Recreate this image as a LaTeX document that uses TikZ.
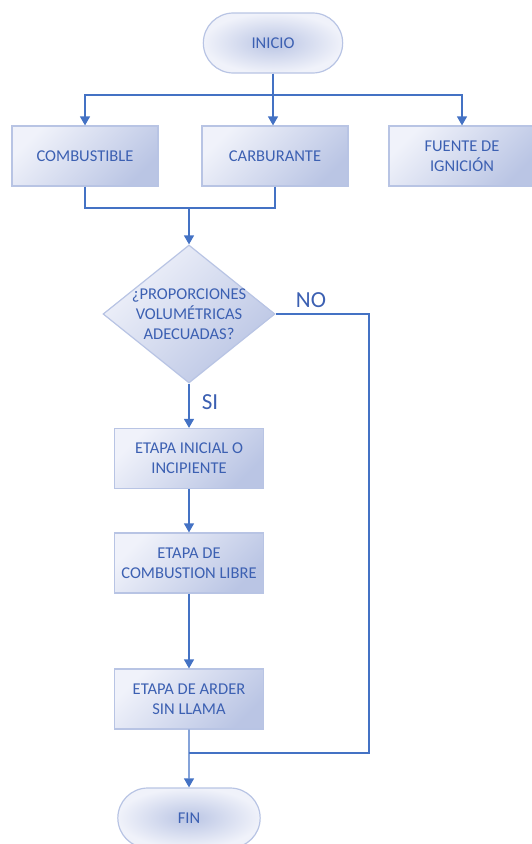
\documentclass[tikz,border=0pt]{standalone}
\usepackage{fontspec}
\setmainfont{Carlito}
\usetikzlibrary{shapes.geometric,shapes.misc,arrows.meta,calc}
\definecolor{lineblue}{RGB}{68,114,196}
\definecolor{txtblue}{RGB}{60,96,178}
\definecolor{bord}{RGB}{184,196,228}
\definecolor{lite}{RGB}{240,242,250}
\definecolor{dark}{RGB}{186,197,228}
\tikzset{
  x=1pt, y=1pt,
  boxtext/.style={text=txtblue, font=\fontsize{16.5}{20}\selectfont, align=center},
  procbox/.style={rectangle, draw=bord, line width=1.2pt, minimum width=146pt, minimum height=60pt,
    top color=lite, bottom color=dark, shading angle=45, boxtext, inner sep=2pt},
  termbox/.style={rounded rectangle, draw=bord, line width=1.2pt, minimum width=146pt, minimum height=60pt,
    inner color=dark, outer color=lite, boxtext},
  decbox/.style={diamond, draw=bord, line width=1.2pt, minimum width=172pt, minimum height=138pt,
    top color=lite, bottom color=dark, shading angle=45, inner sep=0pt},
  arr/.style={draw=lineblue, line width=1.3pt, -{Triangle[width=10pt,length=9pt]}},
  plain/.style={draw=lineblue, line width=1.3pt},
  lbl/.style={text=txtblue, font=\fontsize{23}{24}\selectfont},
}
\begin{document}
\begin{tikzpicture}
\useasboundingbox (0,0) rectangle (532,-844);
\clip (0,0) rectangle (532,-844);
% nodes
\node[termbox] (inicio) at (273,-43) {INICIO};
\node[procbox] (comb) at (85,-156) {COMBUSTIBLE};
\node[procbox] (carb) at (275,-156) {CARBURANTE};
\node[procbox] (fuente) at (462,-156) {FUENTE DE\\IGNICIÓN};
\node[decbox] (dec) at (189,-314) {};
\node[boxtext] (dectext) at (dec.center) {¿PROPORCIONES\\VOLUMÉTRICAS\\ADECUADAS?};
\node[procbox, minimum width=149pt] (et1) at (189,-458.5) {ETAPA INICIAL O\\INCIPIENTE};
\node[procbox, minimum width=149pt] (et2) at (189,-563) {ETAPA DE\\COMBUSTION LIBRE};
\node[procbox, minimum width=149pt] (et3) at (189,-699) {ETAPA DE ARDER\\SIN LLAMA};
\node[termbox, minimum width=149pt] (fin) at (189,-818) {FIN};
% junctions
\coordinate (j1) at (273,-95);
\coordinate (j2) at (189,-208);
\coordinate (j3) at (369,-753);
% connectors
\draw[plain] (inicio.south) -- (j1);
\draw[arr] (j1) -| (comb.north);
\draw[arr] (j1) -| (fuente.north);
\draw[arr] (inicio.south) -- (inicio.south |- carb.north);
\draw[plain] (comb.south) |- (j2);
\draw[plain] (carb.south) |- (j2);
\draw[arr] (j2) -- (dec.north);
\draw[arr] (dec.south) -- (et1.north -| dec.south);
\draw[arr] (et1) -- (et2);
\draw[arr] (et2) -- (et3);
\draw[arr] (et3) -- (fin);
\draw[plain] (dec.east) -| (j3) -- (j3 -| fin.north);
% labels
\node[lbl] (no) at (311,-300) {NO};
\node[lbl] (si) at (210,-402) {SI};
\end{tikzpicture}
\end{document}
